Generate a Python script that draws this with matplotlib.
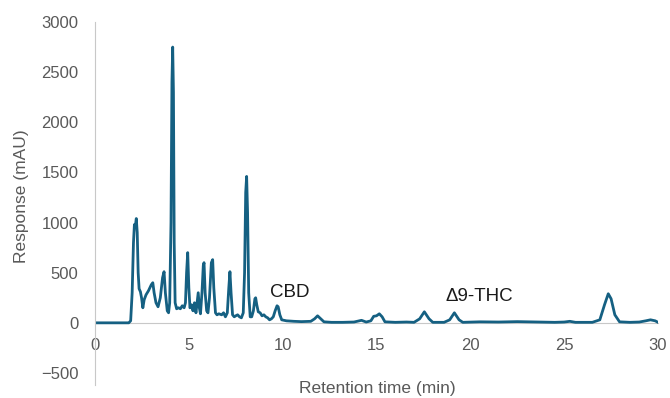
import matplotlib
matplotlib.use("Agg")
from matplotlib import pyplot as plt

# Chromatogram trace (time in min, response in mAU)
time_min = [0, 1.8, 1.9, 1.98, 2.05, 2.1, 2.14, 2.2, 2.25, 2.3, 2.35, 2.42, 2.48, 2.55, 2.62,
            2.72, 2.85, 3.0, 3.08, 3.15, 3.25, 3.36, 3.48, 3.6, 3.68, 3.75, 3.85, 3.92, 3.98,
            4.05, 4.1, 4.14, 4.18, 4.22, 4.27, 4.35, 4.45, 4.55, 4.65, 4.75, 4.82, 4.88, 4.94,
            5.0, 5.06, 5.14, 5.22, 5.3, 5.38, 5.44, 5.5, 5.56, 5.62, 5.7, 5.77, 5.81, 5.87,
            5.95, 6.02, 6.1, 6.2, 6.27, 6.33, 6.42, 6.5, 6.6, 6.75, 6.85, 6.95, 7.05, 7.13,
            7.19, 7.25, 7.33, 7.42, 7.5, 7.6, 7.7, 7.8, 7.9, 7.97, 8.03, 8.08, 8.13, 8.19,
            8.27, 8.35, 8.44, 8.52, 8.56, 8.62, 8.7, 8.8, 8.9, 9.0, 9.1, 9.2, 9.3, 9.4, 9.5,
            9.6, 9.7, 9.76, 9.85, 9.95, 10.2, 10.6, 11.0, 11.5, 11.7, 11.86, 12.0, 12.2, 12.6,
            13.2, 13.8, 14.2, 14.45, 14.7, 14.85, 15.0, 15.15, 15.3, 15.45, 16.0, 16.6, 17.0,
            17.3, 17.55, 17.8, 18.0, 18.6, 18.9, 19.15, 19.4, 19.6, 20.5, 21.5, 22.5, 23.5,
            24.5, 25.0, 25.3, 25.6, 26.5, 26.9, 27.15, 27.35, 27.5, 27.7, 27.95, 28.5, 29.0,
            29.35, 29.6, 29.85, 30.0]
response = [0, 0, 20, 300, 800, 980, 950, 1040, 900, 500, 340, 310, 250, 150, 230,
            280, 320, 380, 400, 300, 200, 160, 250, 450, 510, 300, 120, 100, 200,
            1000, 2400, 2750, 2300, 800, 200, 140, 150, 140, 170, 150, 200, 500, 700,
            350, 150, 180, 120, 200, 100, 200, 300, 150, 90, 300, 570, 600, 300,
            120, 100, 250, 600, 630, 350, 100, 80, 90, 80, 100, 60, 100, 350,
            510, 300, 80, 60, 70, 80, 60, 50, 100, 500, 1300, 1460, 1100, 300,
            60, 60, 120, 240, 250, 180, 110, 100, 70, 80, 60, 50, 30, 40, 60,
            120, 170, 160, 80, 30, 20, 15, 12, 15, 40, 70, 45, 10, 5,
            5, 8, 25, 8, 20, 65, 70, 90, 60, 10, 5, 8, 5,
            40, 110, 40, 5, 5, 30, 100, 30, 5, 10, 8, 12, 8,
            5, 8, 15, 5, 5, 30, 180, 290, 240, 80, 10, 5, 8,
            20, 30, 20, 5]

# Peak labels
labels = ["CBD", "\u03949-THC"]
label_x = [10.4, 20.5]
label_y = [300, 265]

x_ticks = [0, 5, 10, 15, 20, 25, 30]
y_ticks = [-500, 0, 500, 1000, 1500, 2000, 2500, 3000]

plt.rcParams['font.family'] = ['Liberation Sans', 'DejaVu Sans']

fig = plt.figure(figsize=(6.7, 3.98), dpi=100)
ax = fig.add_axes([95 / 670, 1 - 385 / 398, 563 / 670, 363 / 398])

ax.plot(time_min, response, color='#156082', linewidth=2.0, solid_joinstyle='round')

for txt, x, y in zip(labels, label_x, label_y):
    ax.text(x, y, txt, ha='center', va='center', fontsize=13.5, color='#1a1a1a')

ax.set_xlim(0, 30)
ax.set_ylim(-620, 3000)
ax.set_xticks(x_ticks)
ax.set_yticks(y_ticks)
ax.set_yticklabels([f"\u2212{abs(v)}" if v < 0 else str(v) for v in y_ticks])

for side in ['top', 'right']:
    ax.spines[side].set_visible(False)
ax.spines['bottom'].set_position(('data', 0))
ax.spines['bottom'].set_color('#c8c8c8')
ax.spines['left'].set_color('#c8c8c8')
ax.spines['left'].set_bounds(-620, 3000)
ax.spines['bottom'].set_zorder(0)

ax.tick_params(axis='x', length=0, pad=11, labelsize=12, labelcolor='#595959')
ax.tick_params(axis='y', length=0, pad=12, labelsize=12, labelcolor='#595959')

fig.text(22 / 670, 1 - 196 / 398, 'Response (mAU)', rotation=90, ha='center', va='center',
         fontsize=12.5, color='#595959')
fig.text(377 / 670, 1 - 389 / 398, 'Retention time (min)', ha='center', va='center',
         fontsize=12.5, color='#595959')

fig.savefig('out.png', dpi=100)
